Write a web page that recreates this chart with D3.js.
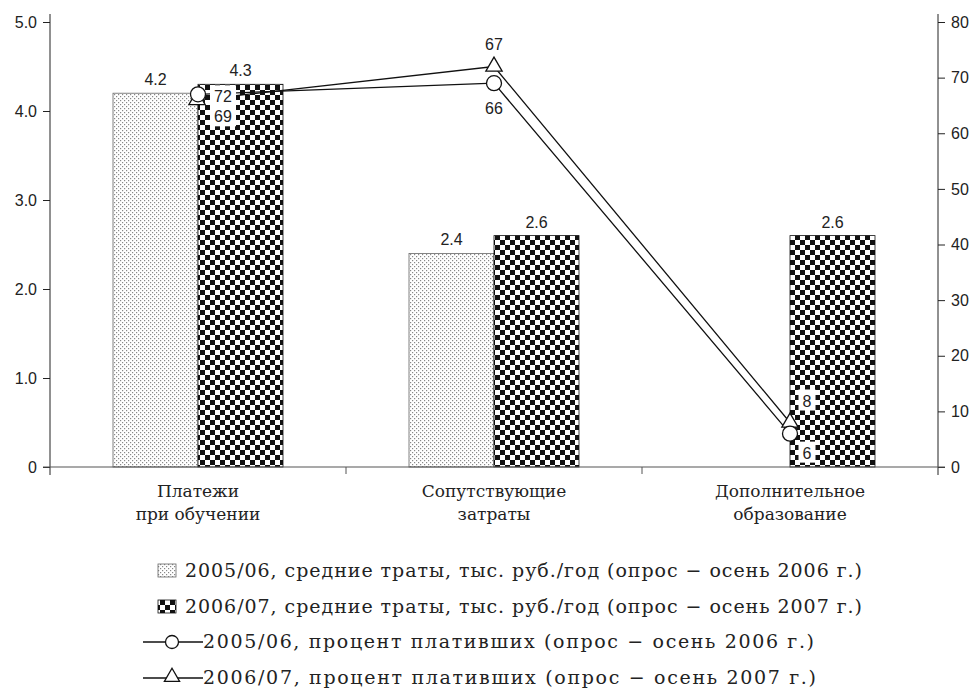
<!DOCTYPE html>
<html><head><meta charset="utf-8">
<script src="https://cdn.jsdelivr.net/npm/d3@7"></script>
<style>body{margin:0;background:#fff}svg{display:block}</style>
</head><body>
<svg id="c" width="980" height="696"></svg>
<script>
const categories = [["Платежи","при обучении"],["Сопутствующие","затраты"],["Дополнительное","образование"]];
const barSeries = ["2005/06","2006/07"];
const spend0506 = [4.2, 2.4, null];
const spend0607 = [4.3, 2.6, 2.6];
const pct0506 = [67, 69, 6];
const pct0607 = [66, 72, 8];
const pctLabels0506 = ["72","66","6"];
const pctLabels0607 = ["69","67","8"];
const leftTicks = [0,1,2,3,4,5];
const rightTicks = [0,10,20,30,40,50,60,70,80];
const legendLabels = [
 "2005/06, средние траты, тыс. руб./год (опрос \u2212 осень 2006 г.)",
 "2006/07, средние траты, тыс. руб./год (опрос \u2212 осень 2007 г.)",
 "2005/06, процент плативших (опрос \u2212 осень 2006 г.)",
 "2006/07, процент плативших (опрос \u2212 осень 2007 г.)"
];

const svg = d3.select("#c");
const sans = "'Liberation Sans', Arial, sans-serif";
const serif = "'DejaVu Serif', 'Liberation Serif', serif";
const ink = "#222";

const defs = svg.append("defs");
const dots = defs.append("pattern").attr("id","dots").attr("patternUnits","userSpaceOnUse").attr("width",4).attr("height",4);
dots.append("rect").attr("width",4).attr("height",4).attr("fill","#fff");
dots.append("rect").attr("x",0).attr("y",0).attr("width",1.2).attr("height",1.2).attr("fill","#888");
dots.append("rect").attr("x",2).attr("y",2).attr("width",1.2).attr("height",1.2).attr("fill","#888");
const chk = defs.append("pattern").attr("id","chk").attr("patternUnits","userSpaceOnUse").attr("width",10).attr("height",10);
chk.append("rect").attr("width",10).attr("height",10).attr("fill","#fff");
chk.append("rect").attr("x",0).attr("y",0).attr("width",5).attr("height",5).attr("fill","#111");
chk.append("rect").attr("x",5).attr("y",5).attr("width",5).attr("height",5).attr("fill","#111");

const x0 = 50, x1 = 938, yBase = 467, yTop = 22;
const x = d3.scaleBand().domain(d3.range(categories.length)).range([x0, x1]).padding(0);
const bw = x.bandwidth();
const xs = d3.scaleBand().domain(barSeries).range([bw/2 - 85, bw/2 + 85]).padding(0);
const yL = d3.scaleLinear().domain([0,5]).range([yBase, yTop]);
const yR = d3.scaleLinear().domain([0,80]).range([yBase, yTop]);

// bars
const barData = [spend0506, spend0607];
const fills = ["url(#dots)","url(#chk)"];
barData.forEach((vals, si) => {
  vals.forEach((v, ci) => {
    if (v == null) return;
    const bx = x(ci) + xs(barSeries[si]);
    svg.append("rect").attr("x", bx).attr("y", yL(v)).attr("width", xs.bandwidth()).attr("height", yBase - yL(v))
      .attr("fill", fills[si]).attr("stroke", si===0 ? "#666" : "#111").attr("stroke-width", 0.8);
    svg.append("text").attr("x", bx + xs.bandwidth()/2).attr("y", yL(v) - 8).attr("text-anchor","middle")
      .attr("font-family", sans).attr("font-size", 16).attr("fill", ink).text(v.toFixed(1));
  });
});

// axes
const gL = svg.append("g").attr("transform", `translate(${x0},0)`)
  .call(d3.axisLeft(yL).tickValues(leftTicks).tickSize(7).tickPadding(6).tickFormat(d => d===0 ? "0" : d.toFixed(1)));
const gR = svg.append("g").attr("transform", `translate(${x1},0)`)
  .call(d3.axisRight(yR).tickValues(rightTicks).tickSize(7).tickPadding(6));
[gL, gR].forEach(g => {
  g.select(".domain").remove();
  g.selectAll("line").attr("stroke", ink);
  g.selectAll("text").attr("font-family", sans).attr("font-size", 16).attr("fill", ink);
});
svg.append("line").attr("x1", x0).attr("x2", x0).attr("y1", yTop - 8).attr("y2", yBase + 8).attr("stroke", ink);
svg.append("line").attr("x1", x1).attr("x2", x1).attr("y1", yTop - 8).attr("y2", yBase + 8).attr("stroke", ink);
svg.append("line").attr("x1", x0 - 7).attr("x2", x1 + 7).attr("y1", yBase).attr("y2", yBase).attr("stroke", "#555").attr("stroke-width", 1.2);
d3.range(1, categories.length).forEach(i => {
  svg.append("line").attr("x1", x(i)).attr("x2", x(i)).attr("y1", yBase).attr("y2", yBase + 7).attr("stroke", "#555");
});
categories.forEach((lines, ci) => {
  const t = svg.append("text").attr("text-anchor","middle").attr("font-family", serif).attr("font-size", 17).attr("fill", ink);
  lines.forEach((l, li) => t.append("tspan").attr("x", x(ci) + bw/2).attr("y", 497 + li*23).text(l));
});

// lines
const cx = ci => x(ci) + bw/2;
const lineGen = d3.line().x((d,i) => cx(i)).y(d => yR(d));
svg.append("path").attr("d", lineGen(pct0607)).attr("fill","none").attr("stroke","#111").attr("stroke-width",1.3);
svg.append("path").attr("d", lineGen(pct0506)).attr("fill","none").attr("stroke","#111").attr("stroke-width",1.3);
const tri = d3.symbol().type(d3.symbolTriangle).size(115);
pct0607.forEach((v, i) => svg.append("path").attr("d", tri()).attr("transform", `translate(${cx(i) - (i===0?1:0)},${yR(v)})`)
  .attr("fill","#fff").attr("stroke","#111").attr("stroke-width",1.3));
pct0506.forEach((v, i) => svg.append("circle").attr("cx", cx(i)).attr("cy", yR(v)).attr("r", 7.5)
  .attr("fill","#fff").attr("stroke","#111").attr("stroke-width",1.3));

function pLabel(txt, px, py, box) {
  if (box) {
    const w = txt.length * 9 + 8;
    svg.append("rect").attr("x", px - w/2).attr("y", py - 11).attr("width", w).attr("height", 21).attr("fill","#fff");
  }
  svg.append("text").attr("x", px).attr("y", py + 6).attr("text-anchor","middle").attr("font-family", sans)
    .attr("font-size", 16).attr("fill", ink).text(txt);
}
pLabel(pctLabels0506[0], cx(0) + 25, yR(pct0506[0]) + 2, true);
pLabel(pctLabels0607[0], cx(0) + 25, yR(pct0506[0]) + 22, true);
pLabel(pctLabels0607[1], cx(1), yR(pct0607[1]) - 23, false);
pLabel(pctLabels0506[1], cx(1), yR(pct0506[1]) + 25, false);
pLabel(pctLabels0607[2], cx(2) + 17, yR(pct0607[2]) - 22, true);
pLabel(pctLabels0506[2], cx(2) + 17, yR(pct0506[2]) + 19, true);

// legend
const ly = [571, 607, 642, 678];
const lw = [677, 677, 611, 613];
legendLabels.forEach((lab, i) => {
  const y = ly[i];
  const tx = i < 2 ? 185 : 203;
  if (i < 2) {
    svg.append("rect").attr("x", 158).attr("y", y - 7).attr("width", 18).attr("height", 13)
      .attr("fill", fills[i]).attr("stroke", i===0 ? "#666" : "#111").attr("stroke-width", 0.8);
  } else {
    svg.append("line").attr("x1", 143).attr("x2", 203).attr("y1", y).attr("y2", y).attr("stroke","#111").attr("stroke-width",1.3);
    if (i === 2) svg.append("circle").attr("cx", 172).attr("cy", y).attr("r", 6.5).attr("fill","#fff").attr("stroke","#111").attr("stroke-width",1.3);
    else svg.append("path").attr("d", d3.symbol().type(d3.symbolTriangle).size(100)()).attr("transform", `translate(172,${y - 1})`)
      .attr("fill","#fff").attr("stroke","#111").attr("stroke-width",1.3);
  }
  svg.append("text").attr("x", tx).attr("y", y + 6).attr("font-family", serif).attr("font-size", 19)
    .attr("textLength", lw[i]).attr("lengthAdjust", "spacing").attr("fill", ink).text(lab);
});
</script>
</body></html>
